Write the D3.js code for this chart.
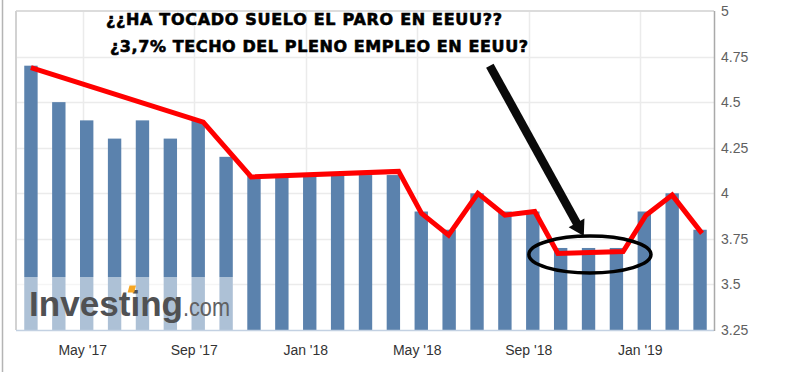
<!DOCTYPE html>
<html>
<head>
<meta charset="utf-8">
<script src="https://cdn.jsdelivr.net/npm/d3@7"></script>
<style>
  body { margin: 0; background: #fff; }
  svg { display: block; }
</style>
</head>
<body>
<div id="chart"></div>
<script>
(function () {
    // monthly unemployment rate, Mar '17 .. Mar '19
    var months = ["Mar 17", "Apr 17", "May 17", "Jun 17", "Jul 17", "Aug 17", "Sep 17", "Oct 17", "Nov 17", "Dec 17",
        "Jan 18", "Feb 18", "Mar 18", "Apr 18", "May 18", "Jun 18", "Jul 18", "Aug 18", "Sep 18", "Oct 18",
        "Nov 18", "Dec 18", "Jan 19", "Feb 19", "Mar 19"]
    var rates = [4.7, 4.5, 4.4, 4.3, 4.4, 4.3, 4.4, 4.2, 4.1, 4.1,
        4.1, 4.1, 4.1, 4.1, 3.9, 3.8, 4.0, 3.9, 3.9, 3.7,
        3.7, 3.7, 3.9, 4.0, 3.8]

    var tickMonths = ["May 17", "Sep 17", "Jan 18", "May 18", "Sep 18", "Jan 19"]
    var tickLabels = ["May '17", "Sep '17", "Jan '18", "May '18", "Sep '18", "Jan '19"]
    var yTicks = [3.25, 3.5, 3.75, 4, 4.25, 4.5, 4.75, 5]

    // hand drawn red trend line: [bar index, value]
    var trend = [[0, 4.69], [6.18, 4.39], [7.9, 4.09], [13.19, 4.12], [14.01, 3.89], [14.98, 3.77],
        [16.03, 4.0], [17.0, 3.88], [18.07, 3.9], [18.9, 3.67], [21.24, 3.68], [22.06, 3.88],
        [23.0, 3.99], [24.07, 3.78]]
    // arrow from [index, value] to [index, value], ellipse centre and radii
    var arrowFrom = [16.46, 4.70]
    var arrowTo = [19.83, 3.766]
    var ring = { cx: 20.05, cy: 3.664, rx: 2.19, ry: 0.101 }

    var title1 = "¿¿HA TOCADO SUELO EL PARO EN EEUU??"
    var title2 = "¿3,7% TECHO DEL PLENO EMPLEO EN EEUU?"

    var width = 811
    var height = 372
    var left = 16, right = 714, top = 11, bottom = 330

    var svg = d3.select("#chart")
        .append("svg")
        .attr("width", width)
        .attr("height", height)

    svg.append("rect").attr("width", width).attr("height", height).attr("fill", "#fff")

    var x = d3.scaleBand()
        .domain(months)
        .range([left + 1, right])
        .paddingInner(0.52)
        .paddingOuter(0.26)

    var half = x.bandwidth() / 2
    // continuous version of the band centres, for the annotations
    var xi = d3.scaleLinear()
        .domain([0, months.length - 1])
        .range([x(months[0]) + half, x(months[months.length - 1]) + half])

    var y = d3.scaleLinear()
        .domain([3.25, 5])
        .range([bottom, top])

    // outer page border
    svg.append("line")
        .attr("x1", 2.5).attr("x2", 2.5).attr("y1", 0).attr("y2", height)
        .attr("stroke", "#b4b4b4").attr("stroke-width", 1.5)

    // gridlines
    svg.selectAll(".hgrid")
        .data(yTicks.filter(function (d) { return d > 3.25 && d < 5; }))
        .enter()
        .append("line")
        .attr("x1", left).attr("x2", right)
        .attr("y1", function (d) { return Math.round(y(d)) + 0.5; })
        .attr("y2", function (d) { return Math.round(y(d)) + 0.5; })
        .attr("stroke", "#ebebeb")
        .attr("stroke-width", 1.5)

    var tickX = function (m) { return Math.round(x(m) + half - 4) + 0.5; }

    svg.selectAll(".vgrid")
        .data(tickMonths)
        .enter()
        .append("line")
        .attr("x1", tickX).attr("x2", tickX)
        .attr("y1", top).attr("y2", bottom)
        .attr("stroke", "#ebebeb")
        .attr("stroke-width", 1.5)

    // frame
    svg.append("line")
        .attr("x1", left).attr("x2", right).attr("y1", top).attr("y2", top)
        .attr("stroke", "#dcdcdc").attr("stroke-width", 2)
    svg.append("line")
        .attr("x1", left).attr("x2", left).attr("y1", top).attr("y2", bottom)
        .attr("stroke", "#d2d2d2").attr("stroke-width", 2)

    // bars
    svg.selectAll(".bar")
        .data(rates)
        .enter()
        .append("rect")
        .attr("x", function (d, i) { return x(months[i]); })
        .attr("width", x.bandwidth())
        .attr("y", function (d) { return y(d); })
        .attr("height", function (d) { return bottom - y(d); })
        .attr("fill", "#5b82ad")

    // investing.com watermark
    svg.append("rect")
        .attr("x", left + 1).attr("y", 277)
        .attr("width", 216).attr("height", bottom - 277)
        .attr("fill", "#fff").attr("opacity", 0.5)

    svg.append("text")
        .attr("x", 29).attr("y", 316)
        .attr("textLength", 154)
        .attr("lengthAdjust", "spacingAndGlyphs")
        .style("font-family", "'Liberation Sans', Arial, sans-serif")
        .style("font-weight", "bold")
        .style("font-size", "35px")
        .attr("fill", "#505153")
        .text("Investing")
    svg.append("rect")
        .attr("x", 129).attr("y", 285.5)
        .attr("width", 6.5).attr("height", 7)
        .attr("fill", "#f6a623")
        .attr("transform", "skewX(-15) translate(77,0)")
    svg.append("text")
        .attr("x", 183).attr("y", 316)
        .attr("textLength", 47)
        .attr("lengthAdjust", "spacingAndGlyphs")
        .style("font-family", "'Liberation Sans', Arial, sans-serif")
        .style("font-size", "25px")
        .attr("fill", "#606163")
        .text(".com")

    // axes lines
    svg.append("line")
        .attr("x1", left).attr("x2", right).attr("y1", bottom + 0.5).attr("y2", bottom + 0.5)
        .attr("stroke", "#c3d1e2").attr("stroke-width", 1.5)
    svg.append("line")
        .attr("x1", right + 0.5).attr("x2", right + 0.5).attr("y1", top).attr("y2", bottom + 1)
        .attr("stroke", "#a9a9a9").attr("stroke-width", 1.5)

    // y tick labels (right side)
    svg.selectAll(".ylab")
        .data(yTicks)
        .enter()
        .append("text")
        .attr("x", right + 7)
        .attr("y", function (d) { return y(d) + 5; })
        .style("font-family", "'Liberation Sans', Arial, sans-serif")
        .style("font-size", "14px")
        .attr("fill", "#606060")
        .text(function (d) { return String(d); })

    // x tick labels
    svg.selectAll(".xlab")
        .data(tickMonths)
        .enter()
        .append("text")
        .attr("x", function (d) { return x(d) + half - 4; })
        .attr("y", 355)
        .attr("text-anchor", "middle")
        .style("font-family", "'Liberation Sans', Arial, sans-serif")
        .style("font-size", "14px")
        .attr("fill", "#333")
        .text(function (d, i) { return tickLabels[i]; })

    // red trend line
    var line = d3.line()
        .x(function (d) { return xi(d[0]); })
        .y(function (d) { return y(d[1]); })

    svg.append("path")
        .datum(trend)
        .attr("d", line)
        .attr("fill", "none")
        .attr("stroke", "#ff0000")
        .attr("stroke-width", 5)
        .attr("stroke-linejoin", "miter")

    // black ellipse
    svg.append("ellipse")
        .attr("cx", xi(ring.cx))
        .attr("cy", y(ring.cy))
        .attr("rx", xi(ring.cx + ring.rx) - xi(ring.cx))
        .attr("ry", y(ring.cy - ring.ry) - y(ring.cy))
        .attr("fill", "none")
        .attr("stroke", "#000")
        .attr("stroke-width", 3.5)

    // black arrow
    var ax0 = xi(arrowFrom[0]), ay0 = y(arrowFrom[1])
    var ax1 = xi(arrowTo[0]), ay1 = y(arrowTo[1])
    var len = Math.hypot(ax1 - ax0, ay1 - ay0)
    var ux = (ax1 - ax0) / len, uy = (ay1 - ay0) / len
    var headLen = 15, headHalf = 9
    var bx = ax1 - ux * headLen, by = ay1 - uy * headLen

    svg.append("line")
        .attr("x1", ax0).attr("y1", ay0)
        .attr("x2", bx + ux * 2).attr("y2", by + uy * 2)
        .attr("stroke", "#0a0a0a")
        .attr("stroke-width", 8.5)

    svg.append("path")
        .attr("d", "M" + ax1 + "," + ay1 +
            "L" + (bx - uy * headHalf) + "," + (by + ux * headHalf) +
            "L" + (bx + uy * headHalf) + "," + (by - ux * headHalf) + "Z")
        .attr("fill", "#0a0a0a")

    // title (heavy, wide lettering)
    svg.append("text")
        .attr("x", 106).attr("y", 25)
        .attr("textLength", 396)
        .attr("lengthAdjust", "spacing")
        .style("font-family", "'DejaVu Sans', Verdana, sans-serif")
        .style("font-weight", "bold")
        .style("font-size", "16px")
        .attr("fill", "#000")
        .attr("stroke", "#000")
        .attr("stroke-width", 0.6)
        .text(title1)

    svg.append("text")
        .attr("x", 110).attr("y", 52)
        .attr("textLength", 418)
        .attr("lengthAdjust", "spacing")
        .style("font-family", "'DejaVu Sans', Verdana, sans-serif")
        .style("font-weight", "bold")
        .style("font-size", "16px")
        .attr("fill", "#000")
        .attr("stroke", "#000")
        .attr("stroke-width", 0.6)
        .text(title2)
})();
</script>
</body>
</html>
